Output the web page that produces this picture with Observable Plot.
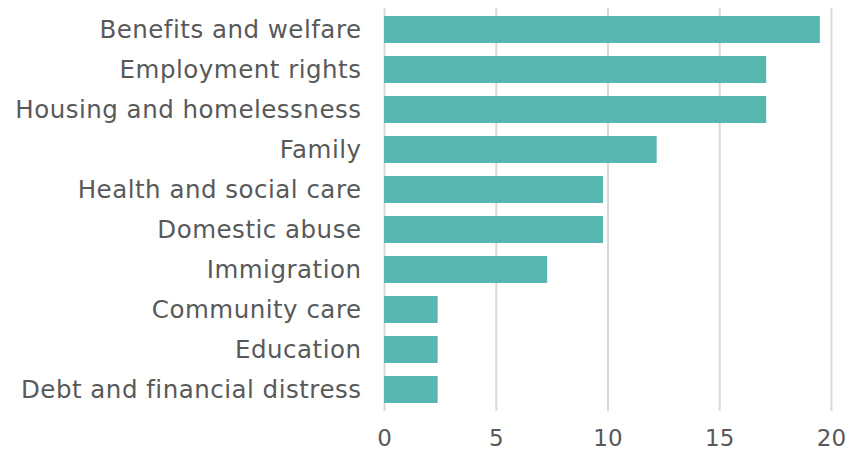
<!DOCTYPE html>
<html>
<head>
<meta charset="utf-8">
<script src="https://cdn.jsdelivr.net/npm/d3@7"></script>
<script src="https://cdn.jsdelivr.net/npm/@observablehq/plot@0.6"></script>
<style>
  html, body { margin: 0; padding: 0; background: #fff; }
  #chart svg { display: block; }
  #chart svg g[aria-label="y-axis tick label"] text { letter-spacing: 0.5px; }
</style>
</head>
<body>
<div id="chart"></div>
<script>
const categories = [
  "Benefits and welfare",
  "Employment rights",
  "Housing and homelessness",
  "Family",
  "Health and social care",
  "Domestic abuse",
  "Immigration",
  "Community care",
  "Education",
  "Debt and financial distress"
];
const values = [19.5, 17.1, 17.1, 12.2, 9.8, 9.8, 7.3, 2.4, 2.4, 2.4];
const xTicks = [0, 5, 10, 15, 20];

const data = categories.map((c, i) => ({category: c, value: values[i]}));
const font = "'DejaVu Sans', sans-serif";
const textColor = "#595959";

const chart = Plot.plot({
  width: 864,
  height: 456,
  marginTop: 8,
  marginBottom: 45,
  marginLeft: 384,
  marginRight: 33,
  style: {fontFamily: font, fontSize: "24px", color: textColor, background: "#fff"},
  x: {domain: [0, 20], ticks: xTicks, label: null},
  y: {domain: categories, paddingInner: 0.33, paddingOuter: 0.165, label: null},
  marks: [
    Plot.ruleX(xTicks, {stroke: "#d9d9d9", strokeWidth: 2}),
    Plot.barX(data, {x: "value", y: "category", fill: "#57b6b0"}),
    Plot.axisX({ticks: xTicks, tickSize: 0, tickPadding: 18, fontSize: 23, fill: textColor, label: null}),
    Plot.axisY({tickSize: 0, tickPadding: 23, fontSize: 24.5, fill: textColor, label: null})
  ]
});
document.getElementById("chart").appendChild(chart);
</script>
</body>
</html>
